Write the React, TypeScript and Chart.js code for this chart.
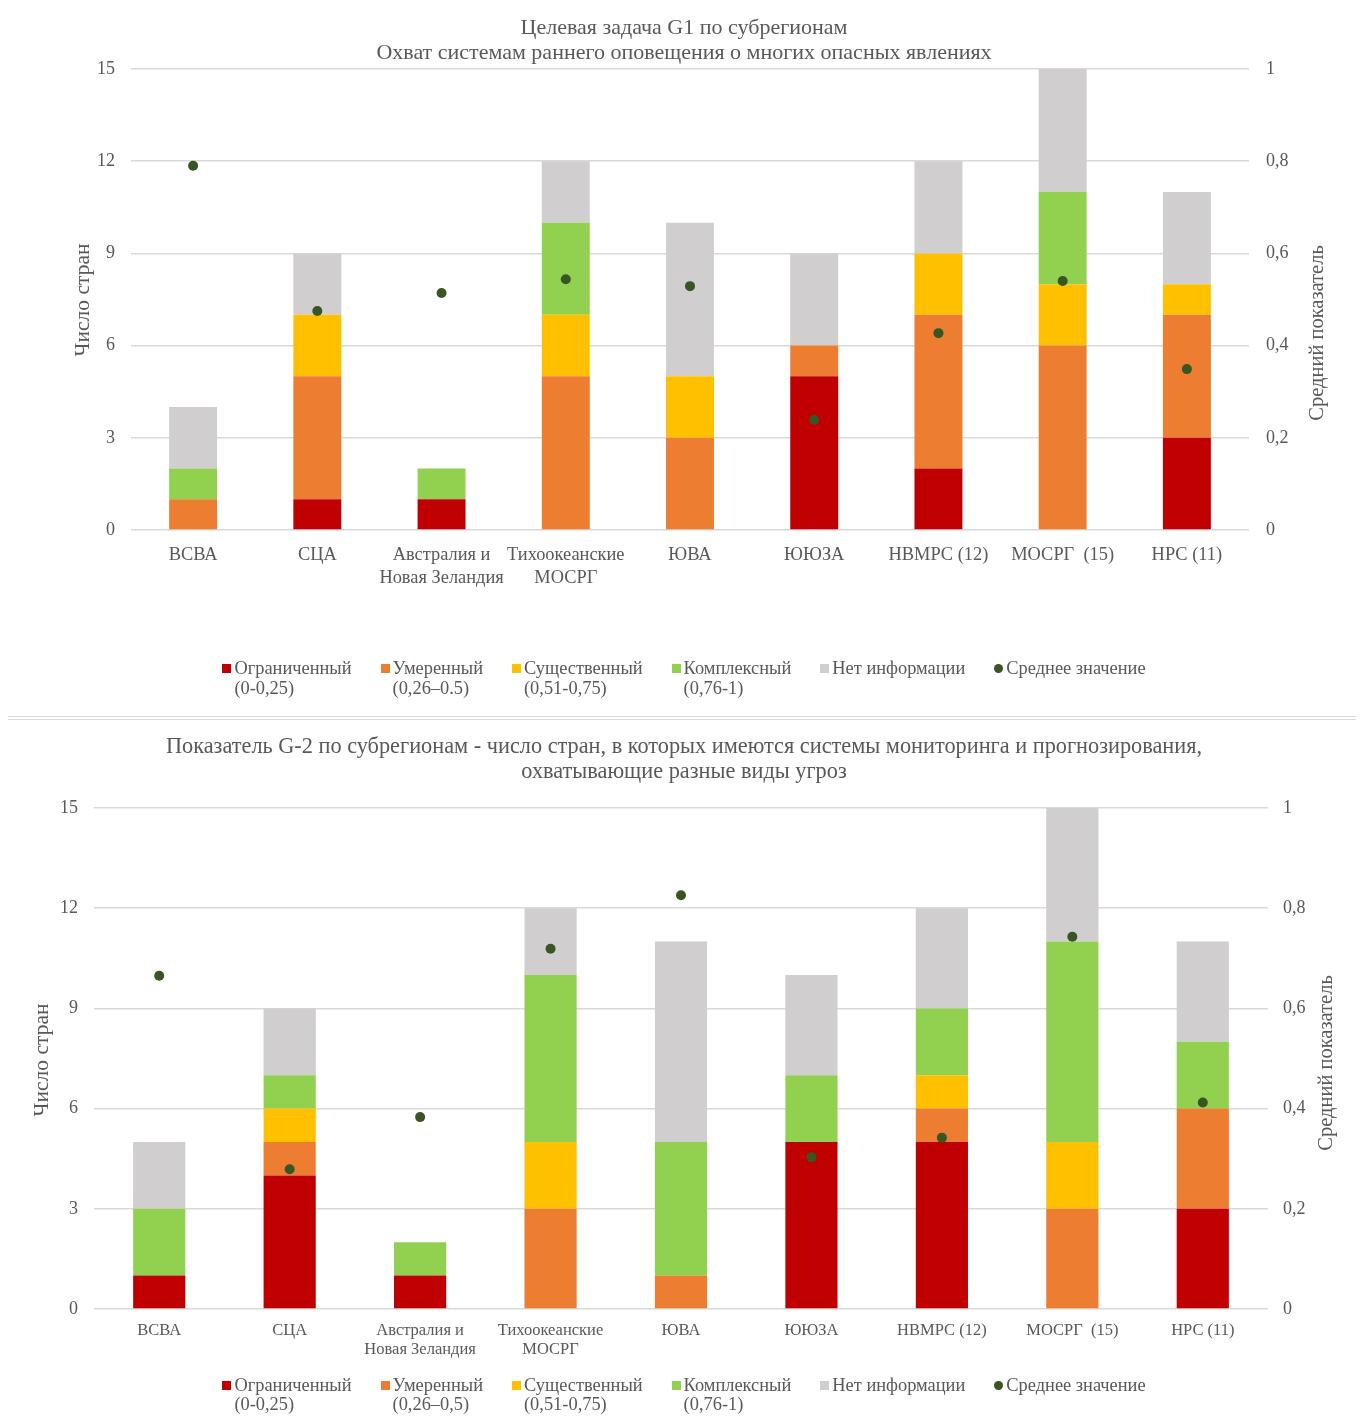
import React, { useEffect, useRef } from "react";
import { Chart, registerables } from "chart.js";

Chart.register(...registerables);

const FONT = "'Liberation Serif', 'Times New Roman', serif";
const TEXT = "#595959";
const GRID = "#d9d9d9";

// ---------- data ----------
const categories: (string | string[])[] = [
  "ВСВА",
  "СЦА",
  ["Австралия и", "Новая Зеландия"],
  ["Тихоокеанские", "МОСРГ"],
  "ЮВА",
  "ЮЮЗА",
  "НВМРС (12)",
  "МОСРГ  (15)",
  "НРС (11)",
];

const seriesNames = ["Ограниченный", "Умеренный", "Существенный", "Комплексный", "Нет информации"];
const meanName = "Среднее значение";
const seriesColors = ["#C00000", "#ED7D31", "#FFC000", "#92D050", "#D0CECE"];
const meanColor = "#375623";

const g1Title = ["Целевая задача G1 по субрегионам", "Охват системам раннего оповещения о многих опасных явлениях"];
const g1Ranges = ["(0-0,25)", "(0,26–0.5)", "(0,51-0,75)", "(0,76-1)", ""];
const g1Limited = [0, 1, 1, 0, 0, 5, 2, 0, 3];
const g1Moderate = [1, 4, 0, 5, 3, 1, 5, 6, 4];
const g1Substantial = [0, 2, 0, 2, 2, 0, 2, 2, 1];
const g1Comprehensive = [1, 0, 1, 3, 0, 0, 0, 3, 0];
const g1NoInfo = [2, 2, 0, 2, 5, 3, 3, 4, 3];
const g1Mean = [0.79, 0.475, 0.514, 0.544, 0.529, 0.239, 0.427, 0.54, 0.349];

const g2Title = [
  "Показатель G-2 по субрегионам - число стран, в которых имеются системы мониторинга и прогнозирования,",
  "охватывающие разные виды угроз",
];
const g2Ranges = ["(0-0,25)", "(0,26–0,5)", "(0,51-0,75)", "(0,76-1)", ""];
const g2Limited = [1, 4, 1, 0, 0, 5, 5, 0, 3];
const g2Moderate = [0, 1, 0, 3, 1, 0, 1, 3, 3];
const g2Substantial = [0, 1, 0, 2, 0, 0, 1, 2, 0];
const g2Comprehensive = [2, 1, 1, 5, 4, 2, 2, 6, 2];
const g2NoInfo = [2, 2, 0, 2, 6, 3, 3, 4, 3];
const g2Mean = [0.665, 0.279, 0.383, 0.719, 0.826, 0.303, 0.342, 0.743, 0.412];

const leftTicks = { min: 0, max: 15, step: 3 };
const rightTicks = { min: 0, max: 1, step: 0.2 };
const leftAxisTitle = "Число стран";
const rightAxisTitle = "Средний показатель";

type Layout = {
  width: number;
  height: number;
  titleFont: number;
  titlePadTop: number;
  titlePadBottom: number;
  left: number;
  right: number;
  bottom: number;
  tickFont: number;
  yTickPad: number;
  yTitleX: number;
  yTitleY: number;
  yTitleFont: number;
  y1TickPad: number;
  y1TitleX: number;
  y1TitleY: number;
  y1TitleFont: number;
  xFont: number;
  xLH: number;
  xPad: number;
  barPct: number;
  legendTop: number;
  legendLH: number;
  legendFont: number;
  pointR: number;
};

type PanelProps = {
  titleLines: string[];
  series: number[][];
  mean: number[];
  ranges: string[];
  lay: Layout;
};

function fmtRight(v: number) {
  const r = Math.round(v * 10) / 10;
  if (r === 0) return "0";
  if (r === 1) return "1";
  return r.toFixed(1).replace(".", ",");
}

function Panel({ titleLines, series, mean, ranges, lay }: PanelProps) {
  const ref = useRef<HTMLCanvasElement | null>(null);

  useEffect(() => {
    if (!ref.current) return;
    const axisTitles = {
      id: "axisTitles",
      afterDraw(chart: any) {
        const ctx = chart.ctx;
        ctx.save();
        ctx.fillStyle = TEXT;
        ctx.textAlign = "center";
        ctx.textBaseline = "middle";
        ctx.save();
        ctx.font = `${lay.yTitleFont}px ${FONT}`;
        ctx.translate(lay.yTitleX, lay.yTitleY);
        ctx.rotate(-Math.PI / 2);
        ctx.fillText(leftAxisTitle, 0, 0);
        ctx.restore();
        ctx.save();
        ctx.font = `${lay.y1TitleFont}px ${FONT}`;
        ctx.translate(lay.y1TitleX, lay.y1TitleY);
        ctx.rotate(-Math.PI / 2);
        ctx.fillText(rightAxisTitle, 0, 0);
        ctx.restore();
        ctx.restore();
      },
    };

    const datasets: any[] = series.map((vals, i) => ({
      type: "bar",
      label: seriesNames[i],
      data: vals,
      backgroundColor: seriesColors[i],
      borderWidth: 0,
      yAxisID: "y",
      stack: "s",
      order: 1,
      barPercentage: lay.barPct,
      categoryPercentage: 1,
    }));
    datasets.push({
      type: "line",
      label: meanName,
      data: mean,
      yAxisID: "y1",
      showLine: false,
      pointRadius: lay.pointR,
      pointBackgroundColor: meanColor,
      pointBorderWidth: 0,
      borderColor: meanColor,
      backgroundColor: meanColor,
      order: 0,
    });

    const chart = new Chart(ref.current, {
      type: "bar",
      data: { labels: categories as any, datasets },
      options: {
        responsive: false,
        animation: false,
        layout: { padding: 0 },
        plugins: {
          legend: { display: false },
          tooltip: { enabled: false },
          title: {
            display: true,
            text: titleLines,
            color: TEXT,
            font: { family: FONT, size: lay.titleFont, weight: "normal", lineHeight: 25 / lay.titleFont },
            padding: { top: lay.titlePadTop, bottom: lay.titlePadBottom },
          },
        },
        scales: {
          x: {
            stacked: true,
            grid: { display: false, drawTicks: false },
            border: { display: false },
            ticks: {
              color: TEXT,
              padding: lay.xPad,
              maxRotation: 0,
              autoSkip: false,
              font: { family: FONT, size: lay.xFont, lineHeight: lay.xLH / lay.xFont },
            },
            afterFit: (s: any) => {
              s.height = lay.height - lay.bottom;
            },
          },
          y: {
            stacked: true,
            position: "left",
            min: leftTicks.min,
            max: leftTicks.max,
            grid: { color: GRID, lineWidth: 1.5, drawTicks: false },
            border: { display: false },
            ticks: {
              stepSize: leftTicks.step,
              color: TEXT,
              padding: lay.yTickPad,
              font: { family: FONT, size: lay.tickFont },
            },
            afterFit: (s: any) => {
              s.width = lay.left;
            },
          },
          y1: {
            position: "right",
            min: rightTicks.min,
            max: rightTicks.max,
            grid: { drawOnChartArea: false, drawTicks: false },
            border: { display: false },
            ticks: {
              stepSize: rightTicks.step,
              color: TEXT,
              padding: lay.y1TickPad,
              font: { family: FONT, size: lay.tickFont },
              callback: (v: any) => fmtRight(Number(v)),
            },
            afterFit: (s: any) => {
              s.width = lay.width - lay.right;
            },
          },
        },
      } as any,
      plugins: [axisTitles],
    });
    return () => chart.destroy();
  }, []);

  const legendItems = [
    ...seriesNames.map((n, i) => ({ name: n, range: ranges[i], color: seriesColors[i], circle: false })),
    { name: meanName, range: "", color: meanColor, circle: true },
  ];

  return (
    <div style={{ position: "relative", width: lay.width, height: lay.height }}>
      <canvas ref={ref} width={lay.width} height={lay.height} style={{ width: lay.width, height: lay.height, display: "block" }} />
      <div
        style={{
          position: "absolute",
          left: 0,
          width: lay.width,
          top: lay.legendTop,
          display: "flex",
          justifyContent: "center",
          gap: 29,
          fontFamily: FONT,
          fontSize: lay.legendFont,
          lineHeight: lay.legendLH + "px",
          color: TEXT,
        }}
      >
        {legendItems.map((it) => (
          <div key={it.name} style={{ display: "flex", alignItems: "flex-start" }}>
            <span
              style={{
                display: "inline-block",
                width: 9,
                height: 9,
                marginTop: (lay.legendLH - 9) / 2,
                marginRight: 3,
                background: it.color,
                borderRadius: it.circle ? "50%" : 0,
              }}
            />
            <div>
              <div>{it.name}</div>
              {it.range ? <div>{it.range}</div> : null}
            </div>
          </div>
        ))}
      </div>
    </div>
  );
}

const topLayout: Layout = {
  width: 1352,
  height: 708,
  titleFont: 22,
  titlePadTop: 7.5,
  titlePadBottom: 3.5,
  left: 123,
  right: 1241,
  bottom: 522,
  tickFont: 18,
  yTickPad: 16,
  yTitleX: 75,
  yTitleY: 292,
  yTitleFont: 21.5,
  y1TickPad: 17,
  y1TitleX: 1310,
  y1TitleY: 325,
  y1TitleFont: 20.5,
  xFont: 18.4,
  xLH: 23,
  xPad: 14,
  barPct: 0.386,
  legendTop: 650,
  legendLH: 20,
  legendFont: 18.4,
  pointR: 5,
};

const bottomLayout: Layout = {
  width: 1352,
  height: 707,
  titleFont: 22.3,
  titlePadTop: 14.5,
  titlePadBottom: 23.5,
  left: 86,
  right: 1260,
  bottom: 589,
  tickFont: 18,
  yTickPad: 16,
  yTitleX: 34,
  yTitleY: 340,
  yTitleFont: 21.5,
  y1TickPad: 15,
  y1TitleX: 1319,
  y1TitleY: 343,
  y1TitleFont: 20.5,
  xFont: 16.5,
  xLH: 19,
  xPad: 12,
  barPct: 0.4,
  legendTop: 655.5,
  legendLH: 19,
  legendFont: 18.4,
  pointR: 5,
};

export default function App() {
  const box: React.CSSProperties = { border: `1px solid ${GRID}`, width: 1354, boxSizing: "border-box", background: "#fff" };
  return (
    <div style={{ marginLeft: -1, marginTop: -1 }}>
      <div style={{ ...box, height: 710 }}>
        <Panel
          titleLines={g1Title}
          series={[g1Limited, g1Moderate, g1Substantial, g1Comprehensive, g1NoInfo]}
          mean={g1Mean}
          ranges={g1Ranges}
          lay={topLayout}
        />
      </div>
      <div style={{ ...box, height: 709, marginTop: 2 }}>
        <Panel
          titleLines={g2Title}
          series={[g2Limited, g2Moderate, g2Substantial, g2Comprehensive, g2NoInfo]}
          mean={g2Mean}
          ranges={g2Ranges}
          lay={bottomLayout}
        />
      </div>
    </div>
  );
}
